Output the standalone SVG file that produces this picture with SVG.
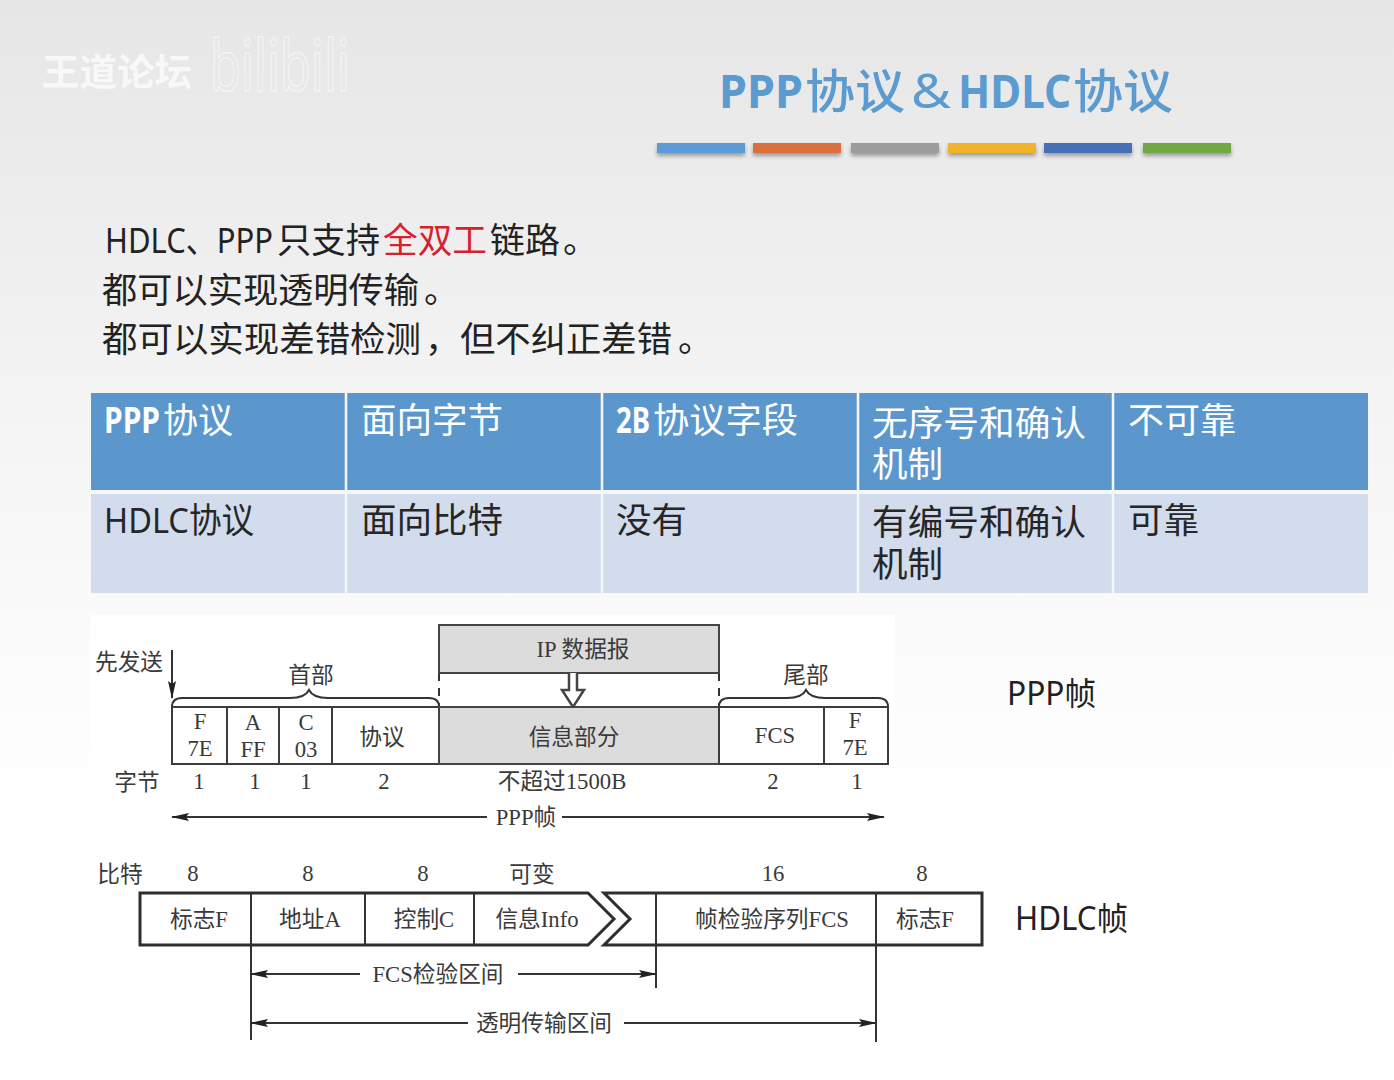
<svg xmlns="http://www.w3.org/2000/svg" width="1394" height="1080" viewBox="0 0 1394 1080">
<style>
text{font-family:"Noto Sans","Noto Sans CJK SC",sans-serif}
.title{font-size:47px;font-weight:700;fill:#5b9bd0}
.lt{font-weight:500}
.body{font-size:35px;fill:#222}
.red{fill:#d5222e}
.hd{font-size:35px;fill:#fff}
.b{font-weight:700}
.cell{font-size:35px;fill:#262626}
.side{font-size:32px;fill:#222}
.d{font-family:"Liberation Serif","Noto Sans CJK SC",serif;font-size:22.7px;fill:#3a3a3a;text-anchor:middle}
.box{fill:none;stroke:#3c3c3c;stroke-width:2}
.thick{fill:none;stroke:#2e2e2e;stroke-width:3}
.ln{fill:none;stroke:#333;stroke-width:2}
.gray{fill:#dcdcdc;stroke:#444;stroke-width:2}
</style>
<defs>
<linearGradient id="bg" x1="0" y1="0" x2="0" y2="1">
<stop offset="0" stop-color="#e6e6e6"/>
<stop offset="0.35" stop-color="#f3f3f3"/>
<stop offset="0.6" stop-color="#fbfbfb"/>
<stop offset="0.75" stop-color="#ffffff"/>
</linearGradient>
<filter id="sh" x="-10%" y="-50%" width="120%" height="220%">
<feDropShadow dx="0" dy="3" stdDeviation="2" flood-color="#000" flood-opacity="0.35"/>
</filter>
<marker id="ah" viewBox="0 0 18 8" refX="17" refY="4" markerWidth="18" markerHeight="8" markerUnits="userSpaceOnUse" orient="auto-start-reverse">
<path d="M0 0L18 4L0 8L3 4Z" fill="#222"/>
</marker>
</defs>
<rect width="1394" height="1080" fill="url(#bg)"/>
<rect x="90" y="615" width="805" height="225" fill="#fff"/>

<g id="watermark">
<text x="42" y="86" font-size="37" font-weight="700" fill="#fafafa" opacity="0.9" textLength="150" lengthAdjust="spacingAndGlyphs">王道论坛</text>
<text x="210" y="91" font-size="72" fill="none" stroke="#fafafa" stroke-width="1.5" opacity="0.65" textLength="140" lengthAdjust="spacingAndGlyphs">bilibili</text>
</g>

<g id="title">
<text class="title" y="108"><tspan x="719" textLength="84" lengthAdjust="spacingAndGlyphs">PPP</tspan><tspan x="805" class="lt" textLength="100" lengthAdjust="spacingAndGlyphs">协议</tspan><tspan x="911" textLength="40" lengthAdjust="spacingAndGlyphs" font-weight="400">&amp;</tspan><tspan x="958" textLength="113" lengthAdjust="spacingAndGlyphs">HDLC</tspan><tspan x="1073" class="lt" textLength="100" lengthAdjust="spacingAndGlyphs">协议</tspan></text>
</g>
<g id="title-bars" filter="url(#sh)">
<rect x="657" y="143" width="88" height="10" fill="#5b9bd5"/>
<rect x="753" y="143" width="88" height="10" fill="#d9703a"/>
<rect x="851" y="143" width="88" height="10" fill="#9c9c9c"/>
<rect x="948" y="143" width="88" height="10" fill="#f0b429"/>
<rect x="1044" y="143" width="88" height="10" fill="#4470b8"/>
<rect x="1143" y="143" width="88" height="10" fill="#70a843"/>
</g>

<g id="summary">
<text class="body" y="253"><tspan x="105" textLength="168" lengthAdjust="spacingAndGlyphs">HDLC、PPP</tspan><tspan x="277" textLength="103" lengthAdjust="spacingAndGlyphs">只支持</tspan><tspan x="383" textLength="104" lengthAdjust="spacingAndGlyphs" class="red">全双工</tspan><tspan x="490" textLength="70" lengthAdjust="spacingAndGlyphs">链路</tspan><tspan x="563">。</tspan></text>
<text class="body" y="303"><tspan x="102" textLength="317" lengthAdjust="spacingAndGlyphs">都可以实现透明传输</tspan><tspan x="424">。</tspan></text>
<text class="body" y="352"><tspan x="102" textLength="319" lengthAdjust="spacingAndGlyphs">都可以实现差错检测</tspan><tspan x="425">，</tspan><tspan x="460" textLength="212" lengthAdjust="spacingAndGlyphs">但不纠正差错</tspan><tspan x="678">。</tspan></text>
</g>

<g id="table">
<rect x="91" y="393" width="1277" height="97" fill="#5b97cc"/>
<rect x="91" y="494" width="1277" height="99" fill="#d2dcec"/>
<path d="M346 393V593M602 393V593M858 393V593M1113 393V593" stroke="#f4f6fa" stroke-width="2.5" fill="none"/>
<text class="hd" y="433"><tspan x="104" class="b" textLength="56" lengthAdjust="spacingAndGlyphs">PPP</tspan><tspan x="163" textLength="70" lengthAdjust="spacingAndGlyphs">协议</tspan></text>
<text class="hd" x="361" y="433" textLength="142" lengthAdjust="spacingAndGlyphs">面向字节</text>
<text class="hd" y="433"><tspan x="616" class="b" textLength="34" lengthAdjust="spacingAndGlyphs">2B</tspan><tspan x="653" textLength="145" lengthAdjust="spacingAndGlyphs">协议字段</tspan></text>
<text class="hd" x="872" y="436" textLength="214" lengthAdjust="spacingAndGlyphs">无序号和确认</text>
<text class="hd" x="872" y="477" textLength="71" lengthAdjust="spacingAndGlyphs">机制</text>
<text class="hd" x="1128" y="433" textLength="108" lengthAdjust="spacingAndGlyphs">不可靠</text>
<text class="cell" x="104" y="533" textLength="150" lengthAdjust="spacingAndGlyphs">HDLC协议</text>
<text class="cell" x="361" y="533" textLength="142" lengthAdjust="spacingAndGlyphs">面向比特</text>
<text class="cell" x="616" y="533" textLength="71" lengthAdjust="spacingAndGlyphs">没有</text>
<text class="cell" x="872" y="535" textLength="214" lengthAdjust="spacingAndGlyphs">有编号和确认</text>
<text class="cell" x="872" y="577" textLength="71" lengthAdjust="spacingAndGlyphs">机制</text>
<text class="cell" x="1128" y="533" textLength="71" lengthAdjust="spacingAndGlyphs">可靠</text>
</g>

<g id="ppp-connectors">
<path class="ln" d="M172 650V698" marker-end="url(#ah)"/>
<path class="ln" d="M172 707C172 700 176 698 182 698H290C300 698 306 696 309 690C312 696 318 698 328 698H429C435 698 439 700 439 707"/>
<path class="ln" d="M719 707C719 700 723 698 729 698H787C797 698 803 696 806 690C809 696 815 698 825 698H878C884 698 888 700 888 707"/>
<path class="ln" d="M439 673V707M719 673V707" stroke-dasharray="8 7"/>
<path class="ln" d="M487 817H172" marker-end="url(#ah)"/>
<path class="ln" d="M562 817H884" marker-end="url(#ah)"/>
</g>

<g id="ppp-ip"><rect class="gray" x="439" y="625" width="280" height="48"/><text class="d" x="583" y="657">IP 数据报</text></g>
<g id="ppp-ip-arrow"><path d="M569 673V690H562L573 707L584 690H577V673" fill="#fff" stroke="#444" stroke-width="2.5"/></g>
<g id="ppp-send"><text class="d" x="129" y="670">先发送</text></g>
<g id="ppp-head-label"><text class="d" x="311" y="683">首部</text></g>
<g id="ppp-tail-label"><text class="d" x="806" y="683">尾部</text></g>
<g id="ppp-f1"><rect class="box" x="172" y="707" width="55" height="57"/><text class="d" x="200" y="729">F</text><text class="d" x="200" y="756">7E</text></g>
<g id="ppp-a"><rect class="box" x="227" y="707" width="52" height="57"/><text class="d" x="253" y="730">A</text><text class="d" x="253" y="757">FF</text></g>
<g id="ppp-c"><rect class="box" x="279" y="707" width="53" height="57"/><text class="d" x="306" y="730">C</text><text class="d" x="306" y="757">03</text></g>
<g id="ppp-proto"><rect class="box" x="332" y="707" width="107" height="57"/><text class="d" x="382" y="745">协议</text></g>
<g id="ppp-info"><rect class="gray" x="439" y="707" width="280" height="57"/><text class="d" x="574" y="745">信息部分</text></g>
<g id="ppp-fcs"><rect class="box" x="719" y="707" width="105" height="57"/><text class="d" x="775" y="743">FCS</text></g>
<g id="ppp-f2"><rect class="box" x="824" y="707" width="64" height="57"/><text class="d" x="855" y="728">F</text><text class="d" x="855" y="755">7E</text></g>
<g id="ppp-bytes">
<text class="d" x="137" y="790">字节</text>
<text class="d" x="199" y="789">1</text><text class="d" x="255" y="789">1</text><text class="d" x="306" y="789">1</text><text class="d" x="384" y="789">2</text>
<text class="d" x="562" y="789">不超过1500B</text>
<text class="d" x="773" y="789">2</text><text class="d" x="857" y="789">1</text>
<text class="d" x="526" y="825">PPP帧</text>
</g>
<g id="ppp-label"><text class="side" x="1007" y="705" textLength="89" lengthAdjust="spacingAndGlyphs">PPP帧</text></g>

<g id="hdlc-connectors">
<path class="ln" d="M251 945V1040M656 945V988M876 945V1042"/>
<path class="ln" d="M360 974H251" marker-end="url(#ah)"/>
<path class="ln" d="M518 974H656" marker-end="url(#ah)"/>
<path class="ln" d="M468 1023H251" marker-end="url(#ah)"/>
<path class="ln" d="M624 1023H876" marker-end="url(#ah)"/>
</g>
<g id="hdlc-frame">
<path class="thick" d="M588 893H140V945H588L614 919Z"/>
<path class="thick" d="M604 893H982V945H604L630 919Z"/>
<path class="ln" d="M251 893V945M365 893V945M474 893V945M656 893V945M876 893V945"/>
</g>
<g id="hdlc-bits">
<text class="d" x="120" y="882">比特</text>
<text class="d" x="193" y="881">8</text><text class="d" x="308" y="881">8</text><text class="d" x="423" y="881">8</text>
<text class="d" x="532" y="882">可变</text><text class="d" x="773" y="881">16</text><text class="d" x="922" y="881">8</text>
</g>
<g id="hdlc-f1"><text class="d" x="199" y="927">标志F</text></g>
<g id="hdlc-a"><text class="d" x="310" y="927">地址A</text></g>
<g id="hdlc-c"><text class="d" x="424" y="927">控制C</text></g>
<g id="hdlc-info"><text class="d" x="537" y="927">信息Info</text></g>
<g id="hdlc-fcs"><text class="d" x="772" y="927">帧检验序列FCS</text></g>
<g id="hdlc-f2"><text class="d" x="925" y="927">标志F</text></g>
<g id="hdlc-ranges">
<text class="d" x="438" y="982">FCS检验区间</text>
<text class="d" x="544" y="1031">透明传输区间</text>
</g>
<g id="hdlc-label"><text class="side" x="1015" y="930" textLength="113" lengthAdjust="spacingAndGlyphs">HDLC帧</text></g>
</svg>
